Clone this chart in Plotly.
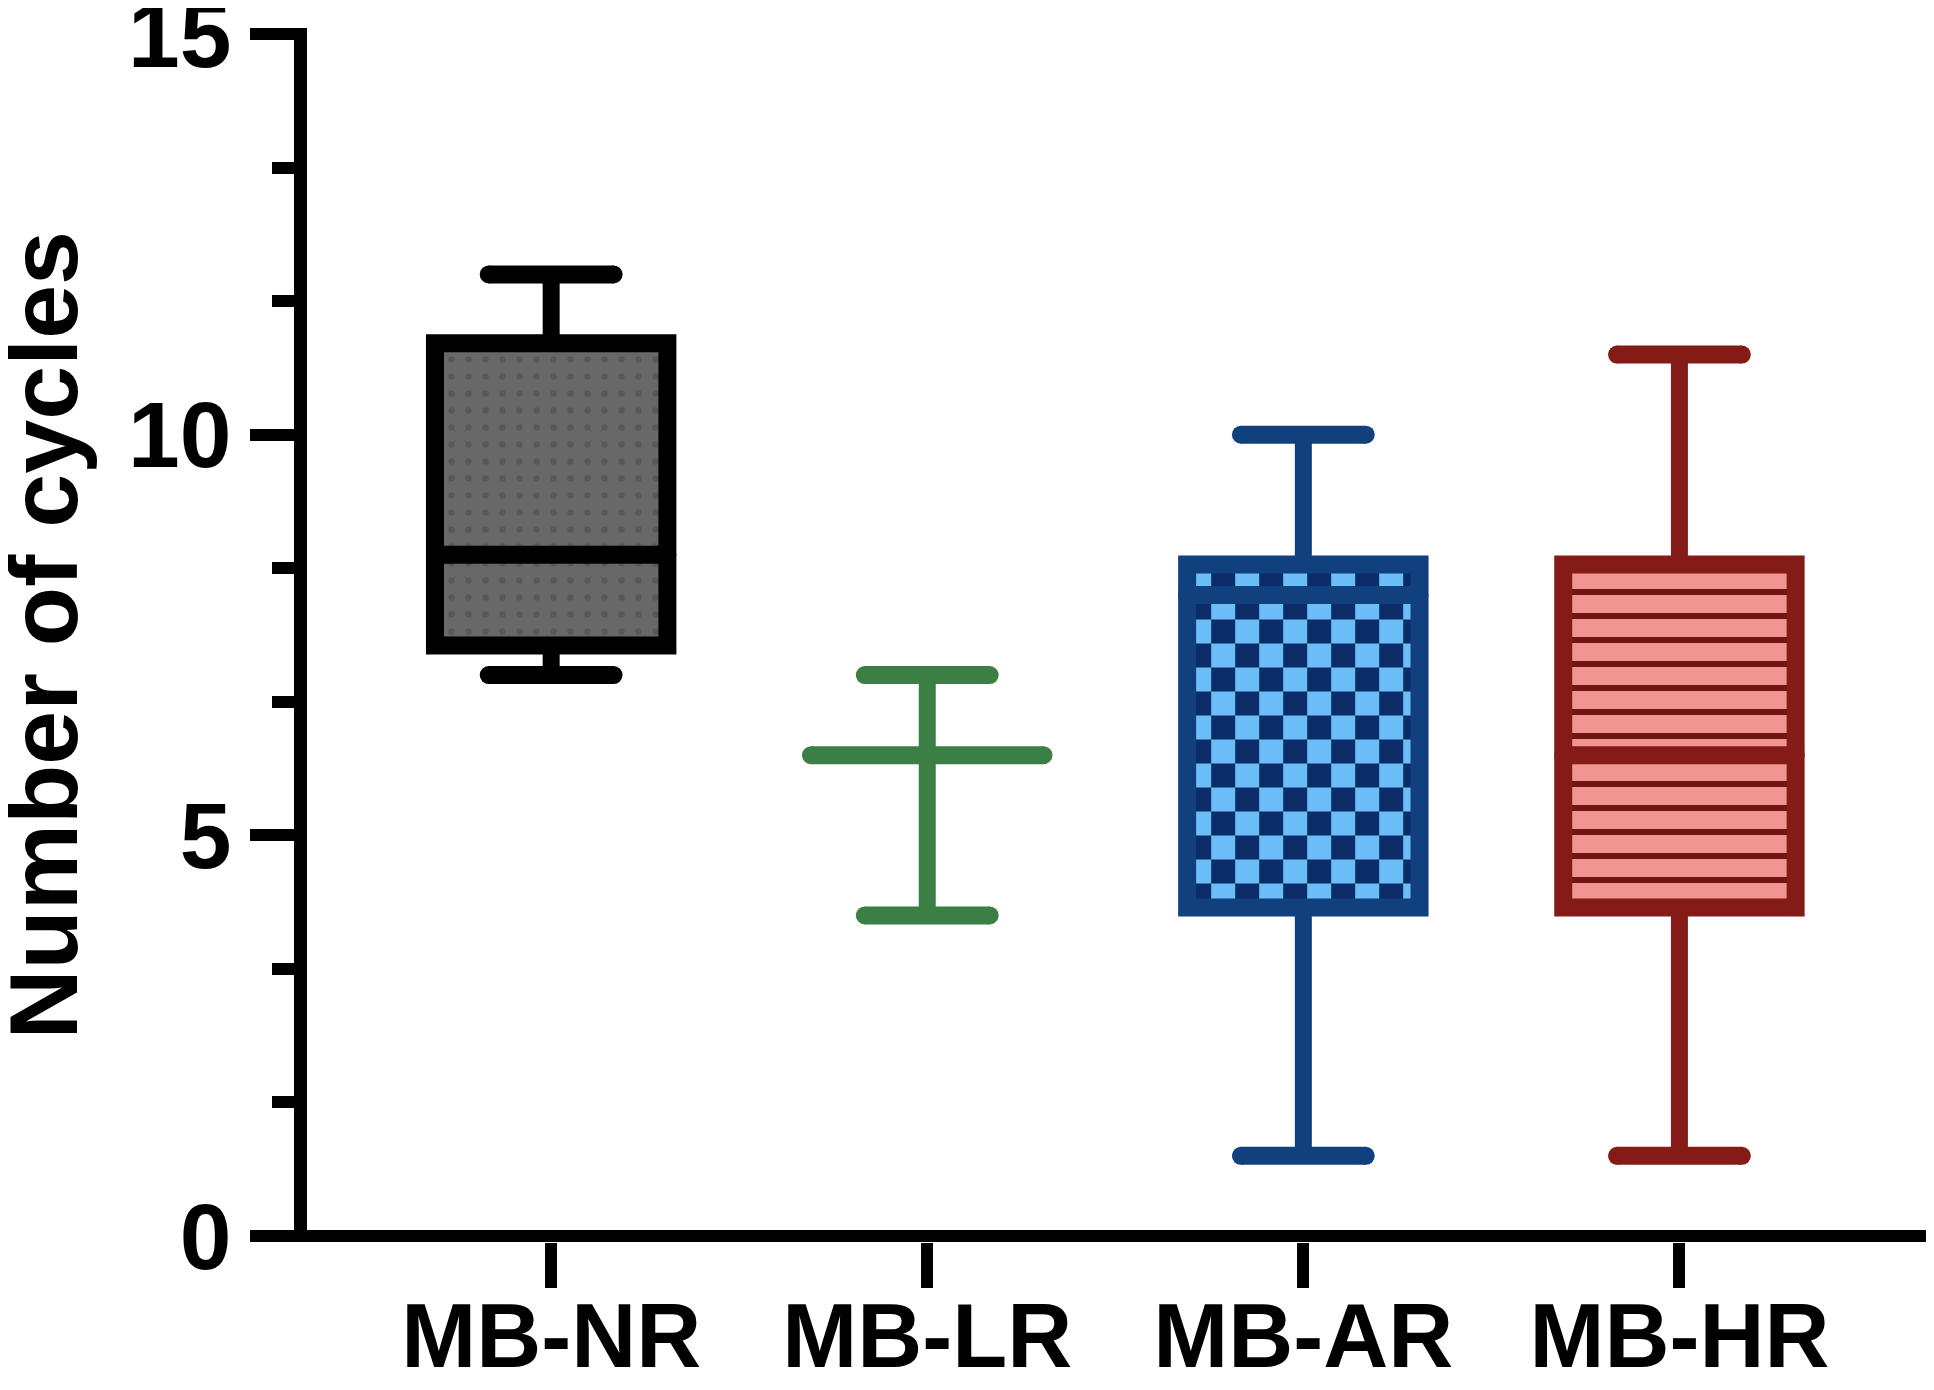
import numpy as np
import plotly.graph_objects as go

# ---------------- data ----------------
categories = ["MB-NR", "MB-LR", "MB-AR", "MB-HR"]
lower_fence = [7.0, 4.0, 1.0, 1.0]
q1_vals = [7.37, 6.0, 4.1, 4.1]
median_vals = [8.5, 6.0, 8.0, 6.0]
q3_vals = [11.14, 6.0, 8.38, 8.38]
upper_fence = [12.0, 7.0, 10.0, 11.0]
y_tick_step = 5
y_minor_step = 5 / 3
y_title = "Number of cycles"

# ---------------- styles ----------------
styles = [
    dict(line="#000000", fill="#686868", fg="#585858", kind="dots"),
    dict(line="#3b7f45", fill=None, fg=None, kind="none"),
    dict(line="#11407f", fill="#6dbdf9", fg="#0b2b69", kind="checker"),
    dict(line="#841b17", fill="#f09591", fg="#6c1512", kind="stripes"),
]

W, H = 1934, 1390
ML, MR, MT, MB = 298.5, 8, 20, 156
PLOT_W = W - ML - MR
PLOT_H = H - MT - MB
X0_PX = 542.75          # pixel of first category inside the figure
STEP_PX = 376.2         # pixels between categories
XR = [-(X0_PX - ML) / STEP_PX, (W - MR - X0_PX) / STEP_PX]
YR = [-0.075, 15.075]
PX_X = PLOT_W / (XR[1] - XR[0])
PX_Y = PLOT_H / (YR[1] - YR[0])

BOX_HALF = 0.309
CAP_HALF = 0.166
LW_BOX = 18
LW_WHISK = 17
CHECK_PX = 24

FONT = "Liberation Sans, Arial, sans-serif"

fig = go.Figure()

for i, cat in enumerate(categories):
    st = styles[i]
    q1, q3, med = q1_vals[i], q3_vals[i], median_vals[i]
    lo, hi = lower_fence[i], upper_fence[i]
    xl, xr = i - BOX_HALF, i + BOX_HALF

    # checkerboard fill (heatmap inside the box)
    if st["kind"] == "checker" and q3 > q1:
        cw = CHECK_PX / PX_X
        ch = CHECK_PX / PX_Y
        xe = np.append(np.arange(xl, xr - 1e-9, cw), xr)
        ye = np.append(np.arange(q1, q3 - 1e-9, ch), q3)
        z = [[(r + c) % 2 for c in range(len(xe) - 1)] for r in range(len(ye) - 1)]
        fig.add_trace(go.Heatmap(
            x=xe, y=ye, z=z, zmin=0, zmax=1, showscale=False, hoverinfo="skip",
            colorscale=[[0, st["fg"]], [0.5, st["fg"]], [0.5, st["fill"]], [1, st["fill"]]],
            zsmooth=False,
        ))

    # box body
    if q3 > q1:
        marker = dict(line=dict(color=st["line"], width=LW_BOX))
        if st["kind"] == "dots":
            marker["color"] = st["fill"]
            marker["pattern"] = dict(shape=".", size=17, solidity=0.11,
                                     fgcolor=st["fg"], bgcolor=st["fill"], fgopacity=1)
        elif st["kind"] == "stripes":
            marker["color"] = st["fill"]
            marker["pattern"] = dict(shape="-", size=24, solidity=0.25,
                                     fgcolor=st["fg"], bgcolor=st["fill"], fgopacity=1)
        else:
            marker["color"] = "rgba(0,0,0,0)"
        fig.add_trace(go.Bar(
            x=[i], y=[q3 - q1], base=[q1], width=[2 * BOX_HALF],
            marker=marker, hoverinfo="skip", showlegend=False,
        ))

    # whiskers
    fig.add_trace(go.Scatter(
        x=[i, i, None, i, i], y=[q3, hi, None, q1, lo], mode="lines",
        line=dict(color=st["line"], width=LW_WHISK), hoverinfo="skip", showlegend=False,
    ))
    # caps with rounded ends
    fig.add_trace(go.Scatter(
        x=[i - CAP_HALF, i + CAP_HALF, None, i - CAP_HALF, i + CAP_HALF],
        y=[hi, hi, None, lo, lo], mode="lines+markers",
        line=dict(color=st["line"], width=LW_BOX),
        marker=dict(symbol="circle", size=LW_BOX, color=st["line"], line=dict(width=0)),
        hoverinfo="skip", showlegend=False,
    ))
    # median
    fig.add_trace(go.Scatter(
        x=[xl, xr], y=[med, med], mode="lines+markers",
        line=dict(color=st["line"], width=LW_BOX),
        marker=dict(symbol="circle", size=LW_BOX, color=st["line"], line=dict(width=0)),
        hoverinfo="skip", showlegend=False,
    ))

fig.add_annotation(
    text=y_title, textangle=-90, xref="paper", yref="paper",
    x=(34 - ML) / PLOT_W, y=0.5, xanchor="center", yanchor="middle",
    showarrow=False, font=dict(family=FONT, size=97, color="black", weight="bold"),
)

fig.update_layout(
    width=W, height=H,
    margin=dict(l=ML, r=MR, t=MT, b=MB, pad=0),
    paper_bgcolor="white", plot_bgcolor="white",
    barmode="overlay",
    showlegend=False,
    font=dict(family=FONT, color="black"),
    xaxis=dict(
        range=XR, tickmode="array", tickvals=list(range(len(categories))), ticktext=categories,
        ticks="outside", ticklen=45, tickwidth=12, tickcolor="black",
        showline=False, showgrid=False, zeroline=False, automargin=False,
        ticklabelstandoff=-29,
        tickfont=dict(family=FONT, size=90, color="black", weight="bold"),
    ),
    yaxis=dict(
        range=YR, tickmode="linear", tick0=0, dtick=y_tick_step,
        ticks="outside", ticklen=44, tickwidth=12, tickcolor="black",
        showline=True, linewidth=13, linecolor="black",
        showgrid=False, zeroline=True, zerolinewidth=12, zerolinecolor="black",
        automargin=False, ticklabeloverflow="allow",
        minor=dict(dtick=y_minor_step, tick0=0, ticks="outside", ticklen=22,
                   tickwidth=12, tickcolor="black", showgrid=False),
        tickfont=dict(family=FONT, size=93, color="black", weight="bold"),
    ),
)

fig.write_html("out.html")
